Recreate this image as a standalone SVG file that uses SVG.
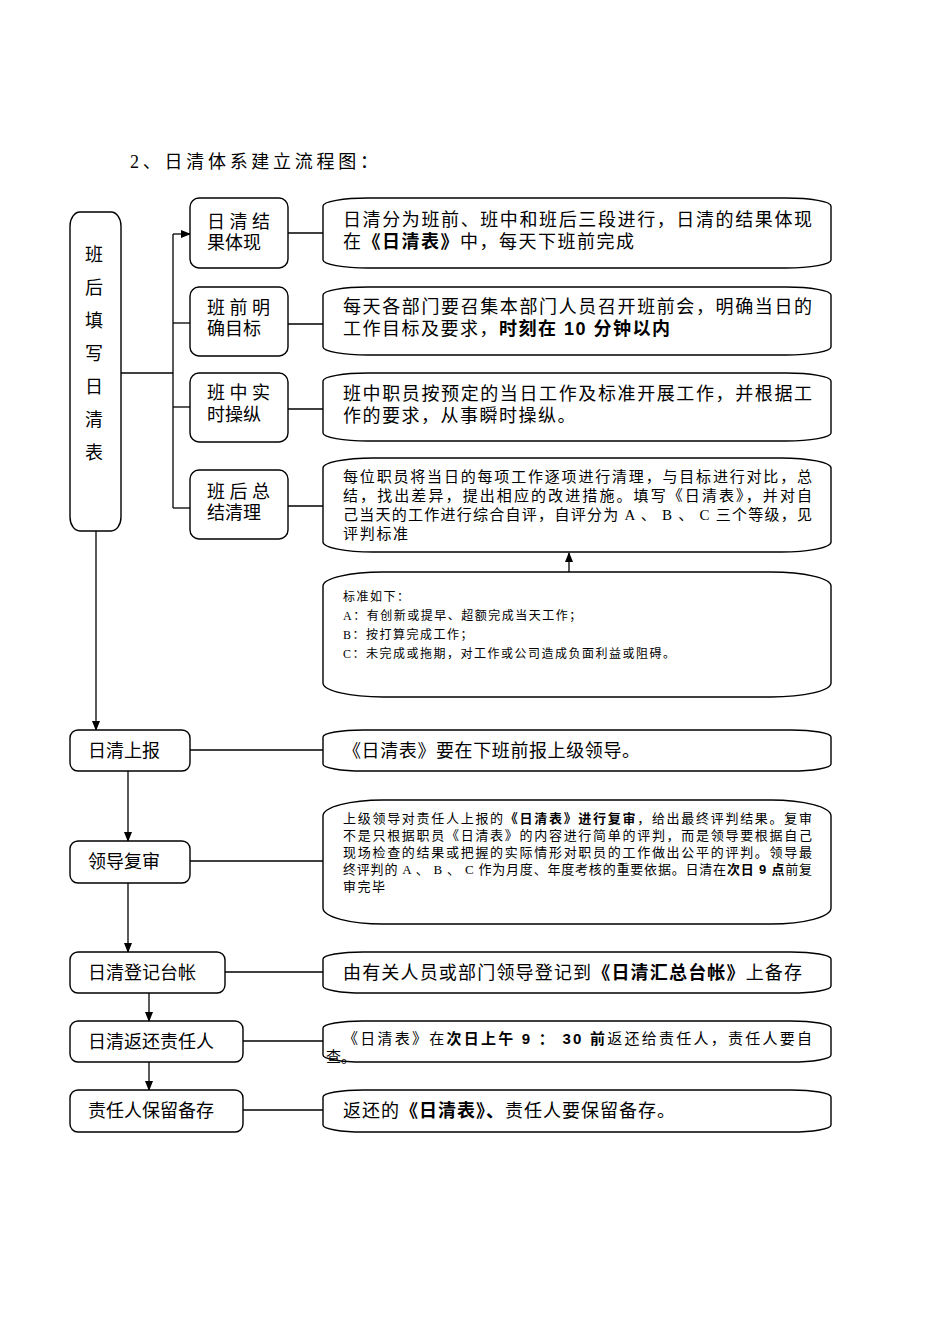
<svg xmlns="http://www.w3.org/2000/svg" width="950" height="1344" viewBox="0 0 950 1344">
<style>
.n{fill:#fff;stroke:#000;stroke-width:1.4}
.c{fill:none;stroke:#000;stroke-width:1.3}
.t{font-family:"Liberation Serif","Noto Sans CJK SC",serif;font-size:18px;fill:#000}
.s15{font-size:15px}
.s13{font-size:13px}
.s12{font-size:12px}
.b{font-weight:bold;font-family:"Liberation Sans","Noto Sans CJK SC",sans-serif}
</style>
<defs>
<marker id="ah" markerWidth="10" markerHeight="10" refX="9" refY="5" orient="auto" markerUnits="userSpaceOnUse"><path d="M0,1 L10,5 L0,9 z" fill="#000"/></marker>
</defs>
<rect width="950" height="1344" fill="#fff"/>
<text class="t" x="130" y="168" textLength="248" lengthAdjust="spacing">2、日清体系建立流程图：</text>

<g id="connectors">
<path class="c" d="M121,373 H173"/>
<path class="c" d="M173,234 V508"/>
<path class="c" d="M173,234 H190" marker-end="url(#ah)"/>
<path class="c" d="M173,323 H190"/>
<path class="c" d="M173,407 H190"/>
<path class="c" d="M173,508 H190"/>
<path class="c" d="M288,233 H323"/>
<path class="c" d="M288,324 H323"/>
<path class="c" d="M288,409 H323"/>
<path class="c" d="M288,506 H323"/>
<path class="c" d="M569,572 V553" marker-end="url(#ah)"/>
<path class="c" d="M96,531 V730" marker-end="url(#ah)"/>
<path class="c" d="M190,750 H323"/>
<path class="c" d="M128,771 V841" marker-end="url(#ah)"/>
<path class="c" d="M190,861 H323"/>
<path class="c" d="M128,883 V952" marker-end="url(#ah)"/>
<path class="c" d="M225,972 H323"/>
<path class="c" d="M149,993 V1021" marker-end="url(#ah)"/>
<path class="c" d="M243,1041 H323"/>
<path class="c" d="M149,1062 V1090" marker-end="url(#ah)"/>
<path class="c" d="M243,1110 H323"/>
</g>

<g id="fill-form">
<rect class="n" x="70" y="212" width="51" height="319" rx="10" ry="14"/>
<text class="t" text-anchor="middle" x="94" y="261">班</text>
<text class="t" text-anchor="middle" x="94" y="294">后</text>
<text class="t" text-anchor="middle" x="94" y="327">填</text>
<text class="t" text-anchor="middle" x="94" y="360">写</text>
<text class="t" text-anchor="middle" x="94" y="393">日</text>
<text class="t" text-anchor="middle" x="94" y="426">清</text>
<text class="t" text-anchor="middle" x="94" y="459">表</text>
</g>

<g id="result">
<rect class="n" x="190" y="198" width="98" height="70" rx="9"/>
<text class="t" x="207" y="228">日 清 结</text>
<text class="t" x="207" y="249">果体现</text>
</g>
<g id="before">
<rect class="n" x="190" y="287" width="98" height="69" rx="9"/>
<text class="t" x="207" y="314">班 前 明</text>
<text class="t" x="207" y="335">确目标</text>
</g>
<g id="during">
<rect class="n" x="190" y="373" width="98" height="69" rx="9"/>
<text class="t" x="207" y="399">班 中 实</text>
<text class="t" x="207" y="421">时操纵</text>
</g>
<g id="after">
<rect class="n" x="190" y="470" width="98" height="69" rx="9"/>
<text class="t" x="207" y="498">班 后 总</text>
<text class="t" x="207" y="519">结清理</text>
</g>

<g id="result-desc">
<rect class="n" x="323" y="198" width="508" height="70" rx="45" ry="8"/>
<text class="t" x="343" y="226" textLength="469" lengthAdjust="spacing">日清分为班前、班中和班后三段进行，日清的结果体现</text>
<text class="t" x="343" y="248" letter-spacing="1.5">在<tspan class="b">《日清表》</tspan>中，每天下班前完成</text>
</g>
<g id="before-desc">
<rect class="n" x="323" y="287" width="508" height="68" rx="45" ry="8"/>
<text class="t" x="343" y="313" textLength="469" lengthAdjust="spacing">每天各部门要召集本部门人员召开班前会，明确当日的</text>
<text class="t" x="343" y="335" letter-spacing="1.5">工作目标及要求，<tspan class="b">时刻在 10 分钟以内</tspan></text>
</g>
<g id="during-desc">
<rect class="n" x="323" y="373" width="508" height="68" rx="45" ry="8"/>
<text class="t" x="343" y="400" textLength="469" lengthAdjust="spacing">班中职员按预定的当日工作及标准开展工作，并根据工</text>
<text class="t" x="343" y="422" letter-spacing="1.5">作的要求，从事瞬时操纵。</text>
</g>
<g id="after-desc">
<rect class="n" x="323" y="458" width="508" height="94" rx="50" ry="10"/>
<text class="t s15" x="343" y="482" textLength="469" lengthAdjust="spacing">每位职员将当日的每项工作逐项进行清理，与目标进行对比，总</text>
<text class="t s15" x="343" y="501" textLength="469" lengthAdjust="spacing">结，找出差异，提出相应的改进措施。填写《日清表》，并对自</text>
<text class="t s15" x="343" y="520" textLength="469" lengthAdjust="spacing">己当天的工作进行综合自评，自评分为 A 、 B 、 C 三个等级，见</text>
<text class="t s15" x="343" y="539" letter-spacing="1.7">评判标准</text>
</g>
<g id="standard">
<rect class="n" x="323" y="572" width="508" height="125" rx="60" ry="14"/>
<text class="t s12" x="343" y="601" letter-spacing="1.5">标准如下：</text>
<text class="t s12" x="343" y="620" letter-spacing="1.5">A：有创新或提早、超额完成当天工作；</text>
<text class="t s12" x="343" y="639" letter-spacing="1.5">B：按打算完成工作；</text>
<text class="t s12" x="343" y="658" letter-spacing="1.5">C：未完成或拖期，对工作或公司造成负面利益或阻碍。</text>
</g>

<g id="report">
<rect class="n" x="70" y="730" width="120" height="41" rx="8"/>
<text class="t" x="88" y="757">日清上报</text>
</g>
<g id="report-desc">
<rect class="n" x="323" y="730" width="508" height="41" rx="40" ry="7"/>
<text class="t" x="343" y="757" letter-spacing="0.6">《日清表》要在下班前报上级领导。</text>
</g>
<g id="review">
<rect class="n" x="70" y="841" width="120" height="42" rx="8"/>
<text class="t" x="88" y="868">领导复审</text>
</g>
<g id="review-desc">
<rect class="n" x="323" y="800" width="508" height="124" rx="60" ry="16"/>
<text class="t s13" x="343" y="823" textLength="469" lengthAdjust="spacing">上级领导对责任人上报的<tspan class="b">《日清表》进行复审</tspan>，给出最终评判结果。复审</text>
<text class="t s13" x="343" y="840" textLength="469" lengthAdjust="spacing">不是只根据职员《日清表》的内容进行简单的评判，而是领导要根据自己</text>
<text class="t s13" x="343" y="857" textLength="469" lengthAdjust="spacing">现场检查的结果或把握的实际情形对职员的工作做出公平的评判。领导最</text>
<text class="t s13" x="343" y="874" textLength="469" lengthAdjust="spacing">终评判的 A 、 B 、 C 作为月度、年度考核的重要依据。日清在<tspan class="b">次日 9 点</tspan>前复</text>
<text class="t s13" x="343" y="891" letter-spacing="1.5">审完毕</text>
</g>
<g id="ledger">
<rect class="n" x="70" y="952" width="155" height="41" rx="8"/>
<text class="t" x="88" y="979">日清登记台帐</text>
</g>
<g id="ledger-desc">
<rect class="n" x="323" y="952" width="508" height="41" rx="40" ry="7"/>
<text class="t" x="343" y="979" textLength="459" lengthAdjust="spacing">由有关人员或部门领导登记到<tspan class="b">《日清汇总台帐》</tspan>上备存</text>
</g>
<g id="return">
<rect class="n" x="70" y="1021" width="173" height="41" rx="8"/>
<text class="t" x="88" y="1048">日清返还责任人</text>
</g>
<g id="return-desc">
<rect class="n" x="323" y="1021" width="508" height="41" rx="40" ry="7"/>
<text class="t s15" x="343" y="1044" textLength="469" lengthAdjust="spacing">《日清表》在<tspan class="b">次日上午 9 ： 30 前</tspan>返还给责任人，责任人要自</text>
<text class="t s15" x="326" y="1062">查。</text>
</g>
<g id="keep">
<rect class="n" x="70" y="1090" width="173" height="42" rx="8"/>
<text class="t" x="88" y="1117">责任人保留备存</text>
</g>
<g id="keep-desc">
<rect class="n" x="323" y="1090" width="508" height="42" rx="40" ry="7"/>
<text class="t" x="343" y="1117" letter-spacing="1">返还的<tspan class="b">《日清表》、</tspan>责任人要保留备存。</text>
</g>
</svg>
